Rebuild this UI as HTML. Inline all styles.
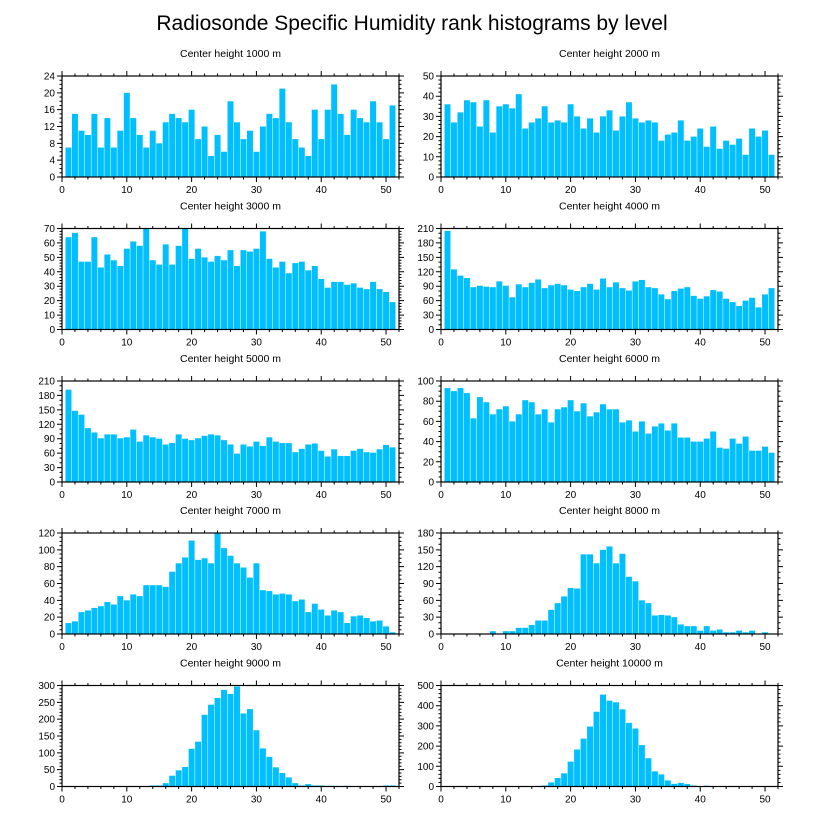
<!DOCTYPE html>
<html><head><meta charset="utf-8"><style>
html,body{margin:0;padding:0;background:#fff;}
svg{display:block;font-family:"Liberation Sans",Arial,sans-serif;}
</style></head><body>
<svg id="chart" width="818" height="824" viewBox="0 0 818 824" xmlns="http://www.w3.org/2000/svg">
<rect width="818" height="824" fill="#fff"/>
<text x="412" y="30" font-size="21" text-anchor="middle" fill="#000">Radiosonde Specific Humidity rank histograms by level</text>
</svg>
<script>
const levels = [1000,2000,3000,4000,5000,6000,7000,8000,9000,10000];
const yMax = [24,50,70,210,210,100,120,180,300,500];
const yStep = [4,10,10,30,30,20,20,30,50,100];
const yMinorPerMajor = [4,5,5,3,3,4,4,3,5,5];
const xTicks = [0,10,20,30,40,50];
const h1000 = [7,15,11,10,15,7,14,7,11,20,14,10,7,11,8,13,15,14,13,16,9,12,5,10,6,18,13,9,11,6,12,15,14,21,13,9,7,5,16,9,16,22,15,10,16,14,13,18,13,9,17];
const h2000 = [36,27,32,38,37,25,38,22,35,36,34,41,24,27,29,35,27,28,27,36,30,24,29,22,30,33,23,30,37,29,27,28,27,18,21,22,28,18,20,24,15,25,14,18,16,19,11,24,20,23,11];
const h3000 = [64,67,47,47,64,43,52,48,44,56,61,58,70,48,45,59,45,58,70,49,56,50,47,51,48,55,44,55,54,56,68,49,43,47,39,46,47,41,44,35,29,33,33,31,32,29,28,33,28,26,19];
const h4000 = [205,125,112,107,88,91,89,88,100,91,67,94,88,97,104,86,92,95,92,83,80,88,95,83,106,88,98,86,81,100,103,88,86,73,63,80,85,88,70,64,69,82,79,64,57,49,60,66,46,73,86];
const h5000 = [192,148,140,112,103,91,99,99,91,93,109,84,97,93,90,78,81,99,90,87,91,96,99,97,87,78,59,78,74,84,75,93,84,81,81,62,69,78,80,65,53,68,54,54,65,69,62,61,68,77,72];
const h6000 = [93,90,93,88,63,84,79,67,72,75,60,67,81,79,67,72,59,72,74,81,70,78,65,69,77,72,72,59,61,50,60,48,55,58,51,58,44,44,40,40,43,50,34,33,43,38,45,31,31,35,29];
const h7000 = [13,15,26,28,31,33,38,35,45,40,47,45,58,58,58,56,74,84,91,111,88,90,84,120,102,93,84,79,67,84,52,51,47,48,47,39,41,26,36,29,22,28,26,13,21,22,19,15,16,9,2];
const h8000 = [0,0,0,0,0,1,0,5,1,5,5,11,11,16,24,24,43,55,67,82,81,142,142,126,150,156,126,143,102,94,60,55,33,34,33,30,17,14,14,6,14,6,8,3,3,6,3,6,0,3,0];
const h9000 = [0,0,0,0,0,0,0,0,0,0,0,0,0,3,3,10,32,48,58,112,133,213,243,263,287,275,297,217,230,167,113,88,57,40,27,10,3,7,3,3,2,2,1,2,1,1,1,1,1,3,3];
const h10000 = [0,0,0,0,0,0,0,0,0,0,0,0,0,2,3,5,20,42,65,123,183,237,297,370,455,425,417,382,315,287,205,140,75,60,30,13,18,12,5,2,4,1,1,2,2,0,0,0,0,0,0];
const series = [h1000,h2000,h3000,h4000,h5000,h6000,h7000,h8000,h9000,h10000];

const NS = "http://www.w3.org/2000/svg";
const svg = document.getElementById('chart');
const colLeft = [62, 441];
const plotW = 337;
const rowTop = [76, 228.5, 381, 533, 685.5];
const plotH = 101;
const xMin = 0, xMax = 52;
function mk(tag, attrs, parent){
  const e = document.createElementNS(NS, tag);
  for (const k in attrs) e.setAttribute(k, attrs[k]);
  (parent||svg).appendChild(e);
  return e;
}
series.forEach((vals, p) => {
  const L = colLeft[p % 2], T = rowTop[Math.floor(p / 2)];
  const xs = v => L + (v - xMin) / (xMax - xMin) * plotW;
  const ys = v => T + plotH - v / yMax[p] * plotH;
  const g = mk('g', {});
  
  
  const t = mk('text', {x: L + plotW/2, y: T - 19, 'font-size': 10.5, 'text-anchor': 'middle', fill: '#000'}, g);
  
  
  t.textContent = 'Center height ' + levels[p] + ' m';
  vals.forEach((v, i) => {
    const c = i + 1, w = 0.92;
    const r = mk('rect', {x: xs(c - w/2), y: ys(v), width: xs(c + w/2) - xs(c - w/2), height: ys(0) - ys(v), fill: '#00BFFF'}, g);
    
    
  });
  const frame = mk('rect', {x: L, y: T, width: plotW, height: plotH, fill: 'none', stroke: '#000', 'stroke-width': 1.2}, g);
  
  
  let d = '';
  for (let v = 0; v <= xMax; v += 2) {
    const len = (v % 10 === 0) ? 5 : 2.5, x = xs(v);
    d += `M${x},${T+plotH}v${len}M${x},${T}v${-len}`;
  }
  const minor = yStep[p] / yMinorPerMajor[p];
  for (let k = 0; k * minor <= yMax[p] + 1e-9; k++) {
    const v = k * minor, y = ys(v);
    const len = (k % yMinorPerMajor[p] === 0) ? 5 : 2.5;
    d += `M${L},${y}h${-len}M${L+plotW},${y}h${len}`;
  }
  const ticks = mk('path', {d: d, stroke: '#000', 'stroke-width': 1, fill: 'none'}, g);
  
  
  xTicks.forEach(v => {
    const tx = mk('text', {x: xs(v), y: T + plotH + 16, 'font-size': 10, 'text-anchor': 'middle', fill: '#000'}, g);
    
    
    tx.textContent = v;
  });
  for (let v = 0; v <= yMax[p]; v += yStep[p]) {
    const ty = mk('text', {x: L - 7, y: ys(v) + 3.5, 'font-size': 10, 'text-anchor': 'end', fill: '#000'}, g);
    
    
    ty.textContent = v;
  }
});
</script>
</body></html>
